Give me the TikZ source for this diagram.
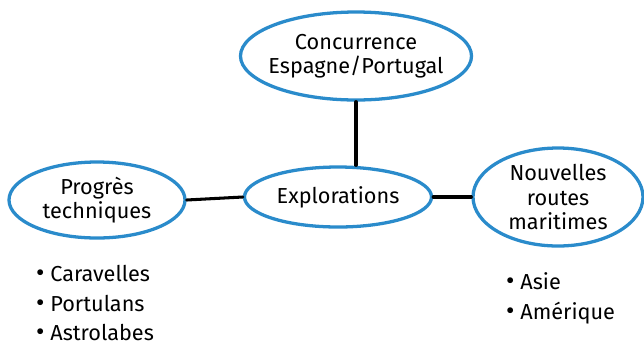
\documentclass[tikz,border=0pt]{standalone}
\usepackage{fontspec}
\setmainfont{Fira Sans}
\usetikzlibrary{shapes.geometric}
\definecolor{bulle}{HTML}{2A8BCB}
\newcommand{\puce}{{\fontsize{22}{22}\selectfont•}\hspace{5pt}}
\tikzset{
  bubble/.style={ellipse, draw=bulle, line width=2.8pt, inner sep=0pt, align=center,
    font=\fontsize{18.5}{20.5}\selectfont},
  link/.style={line width=2.6pt, line cap=round},
  liste/.style={align=left, anchor=west, font=\fontsize{18.5}{25.5}\selectfont}
}

\begin{document}
\begin{tikzpicture}[x=0.03cm, y=-0.03cm]
			%%%%% START %%%%%
			\useasboundingbox (0, 0) rectangle (644, 354);
			
			\node[bubble, inner xsep=-5pt, minimum width=222*0.03cm, minimum height=88*0.03cm] (concurrence) at (356, 56) {Concurrence\\Espagne/Portugal};
			\node[bubble, minimum width=187*0.03cm, minimum height=60*0.03cm] (explorations) at (338, 197) {Explorations};
			\node[bubble, minimum width=176*0.03cm, minimum height=76*0.03cm] (progres) at (97, 200) {Progrès\\techniques};
			\node[bubble, minimum width=170*0.03cm, minimum height=98*0.03cm] (routes) at (558, 197) {Nouvelles\\routes\\maritimes};
			
			\draw[link] (concurrence.south) -- (concurrence.south |- explorations.north);
			\draw[link] (progres.east) -- (explorations.west);
			\draw[link] (explorations.east) -- (routes.west);
			
			\node[liste] (outils) at (32, 303) {\puce Caravelles\\\puce Portulans\\\puce Astrolabes};
			\node[liste] (terres) at (502, 298) {\puce Asie\\\puce Amérique};
			%%%%% END %%%%%
		\end{tikzpicture}
\end{document}
